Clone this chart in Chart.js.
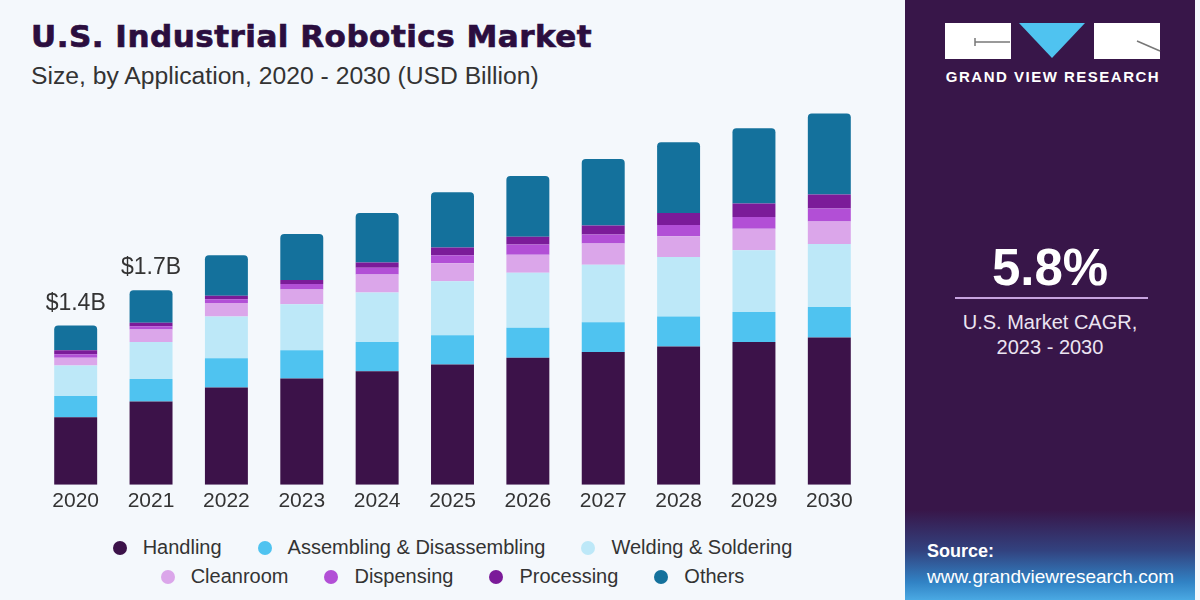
<!DOCTYPE html>
<html>
<head>
<meta charset="utf-8">
<script src="https://cdn.jsdelivr.net/npm/chart.js@4/dist/chart.umd.min.js"></script>
<style>
  body { margin: 0; background: #fff; }
  #wrap { position: relative; width: 1200px; height: 600px; background: #f4f8fc; overflow: hidden; font-family: 'Liberation Sans', Arial, sans-serif; }
  #title { position: absolute; left: 31px; top: 18px; font-family: 'DejaVu Sans', sans-serif; font-weight: bold; font-size: 31px; color: #2b0e3f; letter-spacing: 0.5px; -webkit-text-stroke: 0.7px #2b0e3f; white-space: nowrap; }
  #subtitle { position: absolute; left: 31px; top: 62px; font-size: 24.7px; color: #333; white-space: nowrap; }
  #chart { position: absolute; left: 38px; top: 100px; }
  #legend { position: absolute; left: 0; top: 533px; width: 905px; font-size: 20px; color: #333; }
  .row { display: flex; justify-content: center; height: 29px; align-items: center; }
  .item { display: flex; align-items: center; margin: 0 18px; white-space: nowrap; }
  .dot { width: 14px; height: 14px; border-radius: 50%; margin-right: 16px; }
  #side { position: absolute; left: 905px; top: 0; width: 290px; height: 600px; background: #381649; }
  #edge { position: absolute; left: 1195px; top: 0; width: 5px; height: 600px; background: #f4f8fc; }
  #srcbox { position: absolute; left: 0; top: 510px; width: 290px; height: 90px; background: linear-gradient(#381649 0%, #32427f 45%, #3182c4 80%, #4aa9e3 100%); }
  .w { position: absolute; color: #fff; white-space: nowrap; }
</style>
</head>
<body>
<div id="wrap">
  <div id="title">U.S. Industrial Robotics Market</div>
  <div id="subtitle">Size, by Application, 2020 - 2030 (USD Billion)</div>
  <canvas id="chart" width="829" height="418"></canvas>
  <div id="legend"></div>
  <div id="side">
    <div id="srcbox"></div>
    <svg style="position:absolute;left:0;top:0" width="290" height="100">
      <rect x="40" y="23" width="66" height="36" fill="#fff"/>
      <line x1="70" y1="42" x2="105" y2="42" stroke="#777" stroke-width="1.5"/>
      <line x1="70" y1="38" x2="70" y2="46" stroke="#777" stroke-width="1.5"/>
      <polygon points="114,23 180,23 147,58" fill="#4fc3f0"/>
      <rect x="189" y="23" width="66" height="36" fill="#fff"/>
      <line x1="232" y1="41" x2="255" y2="51" stroke="#777" stroke-width="1.5"/>
    </svg>
    <div class="w" style="left:40px;top:68px;width:216px;text-align:center;font-weight:bold;font-size:15px;letter-spacing:1.5px;">GRAND VIEW RESEARCH</div>
    <div class="w" style="left:0;top:238px;width:290px;text-align:center;font-weight:bold;font-size:51px;">5.8%</div>
    <div style="position:absolute;left:50px;top:297px;width:193px;height:2px;background:#c7a3df;"></div>
    <div class="w" style="left:0;top:310px;width:290px;text-align:center;font-size:20px;color:#ece4f2;line-height:25px;">U.S. Market CAGR,<br>2023 - 2030</div>
    <div class="w" style="left:22px;top:541px;font-weight:bold;font-size:18px;">Source:</div>
    <div class="w" style="left:22px;top:566px;font-size:19px;">www.grandviewresearch.com</div>
  </div>
  <div id="edge"></div>
</div>
<script>
const years = ['2020', '2021', '2022', '2023', '2024', '2025', '2026', '2027', '2028', '2029', '2030'];
const handling   = [0.60, 0.74, 0.865, 0.945, 1.01, 1.07, 1.13, 1.18, 1.23, 1.27, 1.31];
const assembling = [0.19, 0.20, 0.26, 0.25, 0.26, 0.26, 0.265, 0.265, 0.265, 0.265, 0.27];
const welding    = [0.27, 0.33, 0.37, 0.41, 0.44, 0.48, 0.49, 0.51, 0.53, 0.55, 0.56];
const cleanroom  = [0.07, 0.11, 0.12, 0.13, 0.16, 0.16, 0.16, 0.19, 0.185, 0.19, 0.20];
const dispensing = [0.03, 0.03, 0.035, 0.05, 0.06, 0.07, 0.09, 0.08, 0.10, 0.105, 0.115];
const processing = [0.035, 0.03, 0.03, 0.035, 0.045, 0.07, 0.07, 0.08, 0.105, 0.12, 0.125];
const others     = [0.22, 0.29, 0.36, 0.41, 0.44, 0.49, 0.54, 0.59, 0.63, 0.67, 0.72];
const totalLabels = ['$1.4B', '$1.7B', '', '', '', '', '', '', '', '', ''];

const seriesNames  = ['Handling', 'Assembling & Disassembling', 'Welding & Soldering', 'Cleanroom', 'Dispensing', 'Processing', 'Others'];
const seriesData   = [handling, assembling, welding, cleanroom, dispensing, processing, others];
const seriesColors = ['#3c1249', '#4fc3f0', '#bde8f8', '#dba6ea', '#b24fd6', '#7b1b99', '#14719c'];

const datasets = seriesNames.map((name, i) => ({
  label: name,
  data: seriesData[i],
  backgroundColor: seriesColors[i],
  borderWidth: 0,
  borderSkipped: false,
  borderRadius: i === 6 ? { topLeft: 4, topRight: 4, bottomLeft: 0, bottomRight: 0 } : 0,
  barPercentage: 0.57,
  categoryPercentage: 1
}));

// value labels above the first two bars
const totalsPlugin = {
  id: 'totals',
  afterDatasetsDraw(chart) {
    const ctx = chart.ctx;
    const meta = chart.getDatasetMeta(0);
    ctx.save();
    ctx.font = '23px "Liberation Sans", Arial, sans-serif';
    ctx.fillStyle = '#333';
    ctx.textAlign = 'center';
    ctx.textBaseline = 'middle';
    years.forEach((y, i) => {
      if (!totalLabels[i]) return;
      let total = 0;
      seriesData.forEach(s => total += s[i]);
      const x = meta.data[i].x;
      const py = chart.scales.y.getPixelForValue(total);
      ctx.fillText(totalLabels[i], x, py - 22);
    });
    ctx.restore();
  }
};

new Chart(document.getElementById('chart'), {
  type: 'bar',
  data: { labels: years, datasets: datasets },
  options: {
    responsive: false,
    animation: false,
    layout: { padding: 0 },
    plugins: { legend: { display: false }, tooltip: { enabled: false } },
    scales: {
      x: {
        stacked: true,
        grid: { display: false, drawTicks: false },
        border: { display: false },
        ticks: { color: '#333', padding: 4, font: { size: 21, family: '"Liberation Sans", Arial, sans-serif' } }
      },
      y: { stacked: true, display: false, min: 0, max: 3.42 }
    }
  },
  plugins: [totalsPlugin]
});

// legend in two rows like the original
const legend = document.getElementById('legend');
[[0, 1, 2], [3, 4, 5, 6]].forEach(idx => {
  const row = document.createElement('div');
  row.className = 'row';
  idx.forEach(i => {
    const item = document.createElement('div');
    item.className = 'item';
    item.innerHTML = '<span class="dot" style="background:' + seriesColors[i] + '"></span>' + seriesNames[i].replace('&', '&amp;');
    row.appendChild(item);
  });
  legend.appendChild(row);
});
</script>
</body>
</html>
